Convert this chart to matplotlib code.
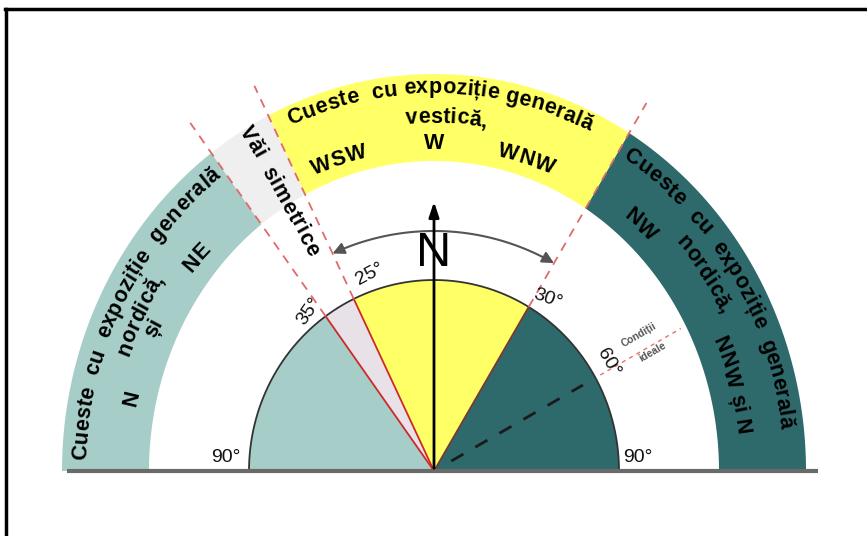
import numpy as np
import matplotlib
matplotlib.use("Agg")
import matplotlib.pyplot as plt
from matplotlib.patches import Polygon, FancyArrowPatch
from matplotlib.path import Path
from matplotlib.font_manager import FontProperties
from matplotlib.textpath import TextToPath

# ---------------- data ----------------
BOUNDS = [-90, -35, -25, 30, 90]            # sector limits, degrees from North
INNER_COLORS = ['#a6cdc8', '#e8e2e8', '#ffff66', '#2e696b']
BAND_COLORS = ['#a6cdc8', '#efefef', '#ffff66', '#2e696b']

DEG_ANGLES = [-90, -35, -25, 30, 60, 90]
DEG_LABELS = ['90°', '35°', '25°', '30°', '60°', '90°']
IDEAL_ANGLE = 60
IDEAL_LABELS = ['Condiții', 'ideale']

LEFT_LINES = ['Cueste  cu  expoziție  generală', 'nordică,', 'și', 'N', 'NE']
LEFT_ANGLES = [-62, -62, -63, -76.5, -48]
LEFT_T = [0.80, 0.52, 0.30, 0.29, 0.28]

TOP_LINES = ['Cueste  cu expoziție generală', 'vestică,', 'WSW', 'W', 'WNW']
TOP_ANGLES = [1, 2, -17, 0, 16.5]
TOP_T = [0.86, 0.52, 0.22, 0.22, 0.22]

RIGHT_LINES = ['Cueste  cu  expoziție  generală', 'NW', 'nordică,', 'NNW și N']
RIGHT_ANGLES = [57, 40, 54, 74]
RIGHT_T = [0.80, 0.27, 0.50, 0.30]

VALLEY_TEXT = 'Văi  simetrice'
NORTH = 'N'

# ---------------- layout ----------------
W, H = 867, 536
CX, CY = 434, 471
SEMI_A, SEMI_B = 185, 191
IN_A, IN_B = 285, 310
OUT_A, OUT_B = 372, 397
FS = 15.5
SPACING = 1.05

fig = plt.figure(figsize=(W / 100, H / 100), dpi=100)
ax = fig.add_axes([0, 0, 1, 1])
ax.set_xlim(0, W)
ax.set_ylim(H, 0)
ax.axis('off')


def r_ell(th, a, b):
    t = np.radians(th)
    return a * b / np.sqrt((b * np.sin(t)) ** 2 + (a * np.cos(t)) ** 2)


def pt(th, r):
    t = np.radians(th)
    return CX + r * np.sin(t), CY - r * np.cos(t)


def sector(th1, th2, a_in, b_in, a_out, b_out, n=120):
    ths = np.linspace(th1, th2, n)
    outer = [pt(t, r_ell(t, a_out, b_out)) for t in ths]
    if a_in == 0:
        inner = [(CX, CY)]
    else:
        inner = [pt(t, r_ell(t, a_in, b_in)) for t in ths[::-1]]
    return np.array(outer + inner)


# bands
for i in range(4):
    ax.add_patch(Polygon(sector(BOUNDS[i], BOUNDS[i + 1], IN_A, IN_B, OUT_A, OUT_B),
                         closed=True, fc=BAND_COLORS[i], ec='none', zorder=1))
# inner semicircle sectors
for i in range(4):
    ax.add_patch(Polygon(sector(BOUNDS[i], BOUNDS[i + 1], 0, 0, SEMI_A, SEMI_B),
                         closed=True, fc=INNER_COLORS[i], ec='none', zorder=1))
ths = np.linspace(-90, 90, 300)
arc = np.array([pt(t, r_ell(t, SEMI_A, SEMI_B)) for t in ths])
ax.plot(arc[:, 0], arc[:, 1], color='#333333', lw=1.3, zorder=3)

# boundary lines
for th, col in zip([-35, -25, 30], ['#cc2a2a', '#cc2a2a', '#7a3a30']):
    x0, y0 = pt(th, 0)
    x1, y1 = pt(th, r_ell(th, SEMI_A, SEMI_B))
    ax.plot([x0, x1], [y0, y1], color=col, lw=1.3, zorder=4)
    x2, y2 = pt(th, 425)
    ax.plot([x1, x2], [y1, y2], color='#e06a6a', lw=1.3, ls=(0, (5, 4)), zorder=4)

# ideal exposure line
x0, y0 = pt(IDEAL_ANGLE, 20)
x1, y1 = pt(IDEAL_ANGLE, 172)
ax.plot([x0, x1], [y0, y1], color='#1a1a1a', lw=2, ls=(0, (5, 5)), zorder=4)
x1, y1 = pt(IDEAL_ANGLE, 192)
x2, y2 = pt(IDEAL_ANGLE, 285)
ax.plot([x1, x2], [y1, y2], color='#e87070', lw=1, ls=(0, (3, 3)), zorder=4)
for lab, th, r in zip(IDEAL_LABELS, [56.5, 61.5], [246, 249]):
    x, y = pt(th, r)
    ax.text(x, y, lab, fontsize=7.5, fontweight='bold', color='#555555', rotation=30,
            ha='center', va='center', family='Liberation Sans', zorder=5)

# baseline
ax.plot([67, 818], [CY, CY], color='#6a6a6a', lw=3, solid_capstyle='butt', zorder=5)

# frame
ax.plot([5, W], [9, 9], color='black', lw=2.5, zorder=6)
ax.plot([6, 6], [9, H], color='black', lw=2.5, zorder=6)

# arc with arrows
ths = np.linspace(-25, 30, 80)
verts = [pt(t, 240) for t in ths]
ax.add_patch(FancyArrowPatch(path=Path(verts), arrowstyle='<|-|>,head_length=7,head_width=3.5',
                             color='#555555', lw=1.5, zorder=5))

# north arrow
ax.text(CX, 253, NORTH, fontsize=35, family='Liberation Sans', ha='center', va='center',
        color='black', zorder=5)
ax.annotate('', xy=(CX, 199), xytext=(CX, CY),
            arrowprops=dict(arrowstyle='-|>,head_length=0.9,head_width=0.3', color='black', lw=2),
            zorder=6)

# degree labels
DEG_POS = [(226, 458), None, None, None, None, (638, 458)]
DEG_ROT = [0, 55, 28, -20, -60, 0]
DEG_R = [0, 203, 207, 206, 205, 0]
DEG_TH = [0, -38, -18, 33.5, 58, 0]
for i, lab in enumerate(DEG_LABELS):
    if DEG_POS[i] is not None:
        x, y = DEG_POS[i]
    else:
        x, y = pt(DEG_TH[i], DEG_R[i])
    ax.text(x, y, lab, fontsize=14, family='Liberation Sans', rotation=DEG_ROT[i],
            ha='center', va='center', rotation_mode='anchor', color='#111111', zorder=5)

# curved text
t2p = TextToPath()
PX = 100 / 72
PROP = FontProperties(family='Liberation Sans', weight='bold', size=FS)


def wid(txt):
    return t2p.get_text_width_height_descent(txt, PROP, ismath=False)[0] * PX


def arc_text(s, th_c, t):
    total = wid(s) * SPACING
    r_mid = r_ell(th_c, IN_A, IN_B) + t * (r_ell(th_c, OUT_A, OUT_B) - r_ell(th_c, IN_A, IN_B))
    th0 = th_c - np.degrees((total / 2) / r_mid)
    for i, ch in enumerate(s):
        if ch == ' ':
            continue
        c = (wid(s[:i + 1]) - wid(ch) / 2) * SPACING
        th = th0 + np.degrees(c / r_mid)
        r = r_ell(th, IN_A, IN_B) + t * (r_ell(th, OUT_A, OUT_B) - r_ell(th, IN_A, IN_B))
        r -= 0.32 * FS * PX
        x, y = pt(th, r)
        ax.text(x, y, ch, fontproperties=PROP, rotation=-th, rotation_mode='anchor',
                ha='center', va='baseline', color='black', zorder=5)


for lines, angs, ts in [(LEFT_LINES, LEFT_ANGLES, LEFT_T),
                        (TOP_LINES, TOP_ANGLES, TOP_T),
                        (RIGHT_LINES, RIGHT_ANGLES, RIGHT_T)]:
    for s, a, t in zip(lines, angs, ts):
        arc_text(s, a, t)

# valley label, letters along a straight radial line
v_th = -30.6
cx_v, cy_v = pt(v_th, 326)
VS = 1.05
total = wid(VALLEY_TEXT) * VS
ang = np.radians(-61)
ux, uy = np.cos(ang), -np.sin(ang)   # screen direction in data coords (y down)
off = 0.32 * FS * PX
for i, ch in enumerate(VALLEY_TEXT):
    if ch == ' ':
        continue
    c = (wid(VALLEY_TEXT[:i + 1]) - wid(ch) / 2) * VS - total / 2
    px = cx_v + c * ux - off * np.sin(ang)
    py = cy_v + c * uy + off * np.cos(ang)
    ax.text(px, py, ch, fontproperties=PROP, rotation=-61, rotation_mode='anchor',
            ha='center', va='baseline', color='black', zorder=5)

fig.savefig('out.png', dpi=100)
